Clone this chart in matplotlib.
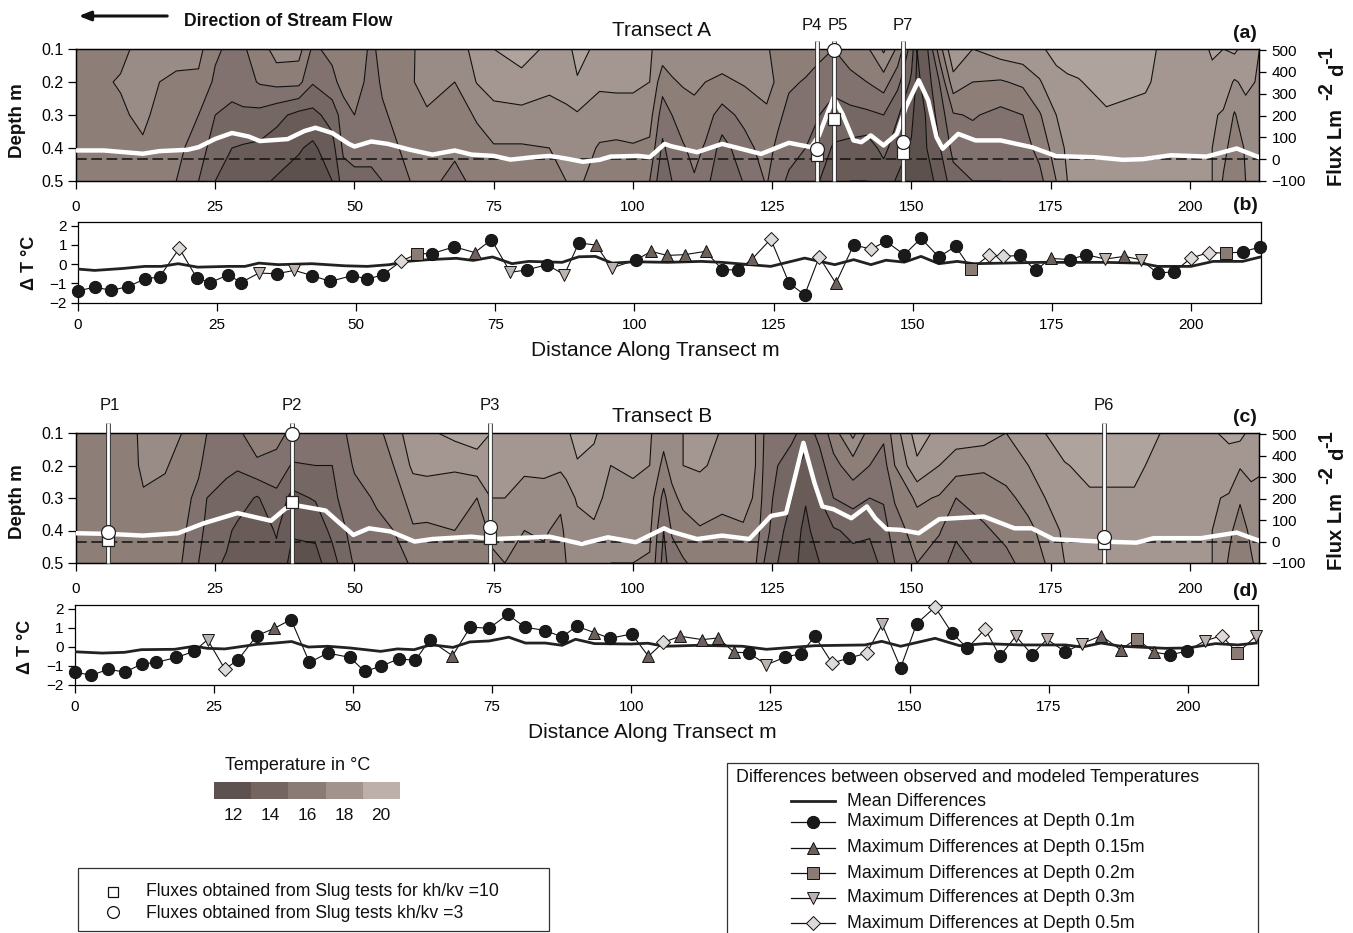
import matplotlib
matplotlib.use("Agg")
import matplotlib.pyplot as plt
import numpy as np

plt.rcParams['font.family'] = ['Liberation Sans', 'DejaVu Sans']

W, H = 1353, 933

depths = [0.1, 0.2, 0.3, 0.4, 0.5]
temp_levels = [5, 13, 14, 15, 16, 17, 18, 19, 25]
temp_colors = ['#5d514e', '#695b57', '#756763', '#817270', '#8d7e78', '#998b85', '#a49791', '#afa39e']

# transect A: temperature per station, depth 0.1 .. 0.5
a_x = [0, 8, 12, 15, 18, 22, 25, 28, 30, 33, 36, 40, 42.5, 46, 48, 50, 53, 55, 58, 60,
       63, 68, 72, 75, 80, 85, 88, 90, 94, 97, 100, 103, 105.3, 107, 109, 111, 113, 116, 120, 124,
       126, 128, 131, 133.5, 136, 139, 142, 145, 147.5, 150, 151, 152.5, 155, 157.5, 161, 166, 170, 173, 176, 178,
       180, 185, 192, 198, 203, 204, 206, 208, 210, 212.5]
a_temp = [
    [16.5, 16.5, 16.5, 16.5, 16.5], [16.7, 17.1, 16.8, 16.6, 16.5], [17.4, 17.6, 17.3, 16.8, 16.5],
    [17.3, 17.0, 16.6, 16.5, 16.4], [17.2, 16.9, 16.5, 16.3, 16.0], [17.3, 16.8, 16.0, 15.5, 15.0],
    [16.2, 15.8, 15.0, 14.5, 14.0], [15.7, 15.3, 14.8, 14.0, 13.6], [15.9, 15.6, 14.8, 13.9, 13.4],
    [16.4, 16.1, 14.7, 13.8, 13.2], [17.5, 16.3, 14.3, 13.5, 12.9], [17.4, 16.3, 13.7, 13.1, 12.6],
    [15.8, 15.1, 13.7, 12.8, 12.4], [16.3, 15.7, 14.4, 13.6, 13.0], [16.4, 16.4, 15.5, 15.2, 14.5],
    [16.7, 16.4, 16.0, 15.4, 14.7], [15.8, 15.7, 15.6, 15.4, 14.7], [16.3, 16.1, 15.9, 15.6, 15.0],
    [16.6, 16.4, 16.2, 16.0, 15.7], [16.8, 16.9, 16.5, 16.2, 16.0], [17.5, 17.3, 16.9, 16.6, 16.3],
    [17.4, 17.0, 16.6, 16.2, 15.7], [18.4, 18.05, 17.1, 16.7, 16.3], [19.0, 18.4, 17.7, 16.9, 16.4],
    [19.4, 18.7, 17.7, 16.9, 16.5], [18.8, 18.2, 17.7, 17.0, 16.5], [18.6, 18.2, 17.9, 17.3, 17.0],
    [19.4, 18.9, 17.9, 17.5, 17.2], [18.7, 18.2, 17.5, 16.9, 16.5], [18.6, 18.2, 17.6, 16.8, 16.3],
    [18.6, 18.2, 17.6, 16.9, 16.3], [18.1, 18.0, 17.4, 16.8, 16.0], [17.6, 16.4, 15.5, 14.8, 14.2],
    [17.5, 16.9, 16.0, 15.5, 15.0], [17.5, 17.1, 16.5, 15.9, 15.5], [17.5, 17.2, 16.7, 16.3, 15.9],
    [17.5, 17.0, 16.4, 15.9, 15.4], [17.6, 16.8, 15.6, 14.6, 14.0], [17.7, 17.1, 16.3, 15.6, 15.1],
    [17.1, 17.4, 16.8, 16.5, 16.1], [16.7, 16.8, 16.3, 15.7, 15.2], [16.7, 16.2, 15.6, 15.2, 14.9],
    [16.6, 15.9, 15.4, 15.0, 14.7], [16.2, 15.7, 15.0, 14.5, 14.0], [16.0, 15.4, 14.5, 13.9, 13.3],
    [16.5, 15.7, 14.7, 13.7, 13.0], [16.8, 16.0, 14.8, 13.5, 13.0], [18.2, 16.5, 15.0, 14.3, 13.4],
    [16.8, 15.3, 14.1, 13.4, 12.9], [14.5, 13.8, 13.2, 12.9, 12.6], [13.0, 12.8, 12.6, 12.5, 12.4],
    [13.5, 13.3, 13.0, 12.9, 12.7], [16.5, 15.0, 14.4, 13.9, 13.2], [18.9, 17.6, 15.9, 15.3, 14.6],
    [18.0, 17.0, 16.1, 15.5, 15.0], [18.5, 16.9, 15.7, 15.3, 15.0], [18.7, 17.2, 16.0, 15.6, 15.2],
    [18.9, 17.9, 16.9, 16.3, 15.7], [19.2, 18.8, 18.0, 17.5, 17.0], [19.3, 18.9, 18.4, 18.2, 18.0],
    [19.4, 18.95, 18.5, 18.3, 18.3], [19.5, 19.3, 18.9, 18.6, 18.5], [19.2, 19.1, 18.8, 18.6, 18.5],
    [18.6, 18.5, 18.4, 18.4, 18.4], [18.9, 18.5, 18.4, 18.3, 18.2], [19.2, 18.6, 18.1, 18.0, 18.0],
    [19.0, 18.5, 17.9, 17.3, 16.9], [19.2, 17.9, 16.9, 16.5, 16.2], [18.6, 18.2, 17.7, 17.1, 17.0],
    [18.0, 17.9, 17.7, 17.4, 17.3],
]

# transect B
c_x = [0, 6, 9, 11, 12.1, 16, 19, 22, 23.5, 27, 29, 32.5, 36, 38.8, 43, 46, 48, 50, 54, 57,
       60.5, 63, 68, 72, 74.5, 77, 80.5, 84, 87, 88, 90, 93, 96, 100, 103, 105.5, 107, 109, 112, 116,
       119.8, 122, 123.5, 126, 128.5, 131, 133.5, 136, 139.5, 142.5, 145, 147, 151, 155, 158, 163, 167, 171, 174, 177.5,
       182, 190, 192, 200, 204, 207, 209, 211, 212.5]
c_temp = [
    [16.5, 16.5, 16.5, 16.5, 16.5], [16.7, 16.9, 16.7, 16.5, 16.4], [16.8, 16.8, 16.6, 16.5, 16.4],
    [17.0, 16.9, 16.6, 16.5, 16.4], [17.8, 17.4, 16.8, 16.5, 16.4], [17.6, 17.1, 16.7, 16.5, 16.3],
    [17.0, 16.6, 16.4, 16.2, 16.0], [16.3, 16.2, 15.7, 15.4, 15.0], [16.0, 15.6, 15.0, 14.7, 14.3],
    [15.9, 15.2, 14.7, 14.2, 13.9], [15.8, 15.1, 14.5, 13.8, 13.5], [16.6, 15.8, 13.9, 13.4, 13.1],
    [16.3, 15.7, 14.7, 14.1, 13.7], [15.8, 14.9, 13.7, 13.1, 12.7], [15.7, 15.0, 14.1, 13.2, 12.7],
    [15.8, 15.0, 14.8, 14.3, 13.5], [15.9, 15.6, 15.2, 14.9, 14.5], [16.3, 16.1, 15.7, 15.3, 15.1],
    [16.7, 16.4, 16.1, 15.8, 15.5], [17.5, 17.0, 16.5, 16.0, 15.7], [18.6, 18.2, 17.4, 16.9, 16.1],
    [18.8, 18.2, 17.6, 16.8, 16.3], [19.3, 18.1, 17.6, 17.0, 16.7], [19.5, 18.5, 17.0, 16.7, 16.5],
    [19.0, 18.3, 18.0, 17.1, 16.9], [18.9, 18.2, 18.0, 17.2, 17.0], [18.5, 18.1, 17.8, 17.0, 16.8],
    [18.2, 18.2, 17.7, 17.1, 16.8], [18.5, 18.2, 17.2, 16.8, 16.5], [18.8, 18.3, 17.6, 17.2, 17.0],
    [19.4, 18.9, 18.1, 17.7, 17.2], [19.2, 18.6, 18.2, 17.9, 17.5], [18.2, 18.0, 17.8, 17.5, 17.0],
    [18.7, 18.2, 17.7, 17.3, 17.0], [18.1, 18.0, 17.5, 17.2, 16.9], [17.4, 16.7, 15.7, 15.0, 14.6],
    [17.6, 17.4, 16.7, 16.1, 15.6], [18.0, 18.0, 17.3, 16.5, 15.9], [18.6, 18.1, 17.6, 16.9, 16.3],
    [17.9, 17.8, 17.2, 16.8, 16.4], [17.6, 17.4, 17.3, 16.9, 16.5], [17.0, 17.0, 16.9, 16.5, 16.1],
    [16.0, 15.9, 15.7, 15.5, 15.0], [15.7, 15.0, 14.6, 14.3, 14.0], [15.3, 14.4, 14.0, 13.6, 13.4],
    [14.5, 13.6, 13.1, 12.7, 12.5], [15.3, 14.6, 14.0, 13.6, 13.0], [16.5, 15.7, 15.0, 13.9, 13.6],
    [18.3, 16.5, 15.4, 14.2, 13.7], [16.5, 16.0, 15.0, 14.1, 13.7], [16.2, 15.6, 15.1, 14.6, 14.2],
    [17.5, 17.0, 16.1, 15.5, 15.0], [19.5, 18.8, 17.2, 16.5, 16.0], [18.7, 18.0, 16.9, 16.1, 15.4],
    [18.5, 17.5, 16.0, 15.2, 14.6], [18.5, 17.2, 16.3, 15.9, 15.3], [18.0, 17.5, 16.7, 16.2, 15.8],
    [18.7, 18.0, 17.4, 16.7, 16.3], [19.0, 18.6, 18.0, 17.4, 17.0], [19.4, 18.95, 18.5, 18.2, 18.0],
    [19.6, 19.2, 18.9, 18.5, 18.3], [19.5, 19.2, 18.9, 18.6, 18.4], [19.1, 19.0, 18.7, 18.5, 18.4],
    [18.8, 18.6, 18.4, 18.4, 18.4], [18.9, 18.4, 18.1, 18.0, 18.0], [19.2, 18.6, 17.9, 17.2, 16.9],
    [19.3, 18.1, 17.1, 16.6, 16.3], [18.7, 18.3, 17.7, 17.2, 16.9], [18.3, 18.1, 17.8, 17.5, 17.3],
]

# flux lines
a_flux_x = [0, 5, 12, 15, 20, 22, 25, 28, 31, 33, 38, 41, 43, 46, 49, 50, 53, 56, 60, 64, 68, 71, 75, 78, 82, 85, 88,
            91, 94, 96, 101, 103, 105.7, 106.8, 111.5, 116, 123, 128, 132, 133.4, 136, 137.6, 139.6, 141, 142.7, 145,
            147.4, 149, 151.3, 153, 154.5, 155.6, 158.4, 161.5, 166, 171.6, 176, 183, 188, 191.5, 196.6, 203, 208.4, 212.4]
a_flux = [40, 40, 25, 37, 43, 55, 93, 120, 104, 83, 92, 129, 144, 120, 70, 58, 81, 70, 43, 21, 40, 21, 15, -2, 9, 15, 3,
          -12, -3, 12, 15, 9, 70, 60, 32, 70, 24, 75, 55, 109, 282, 208, 86, 78, 109, 63,
          116, 239, 362, 270, 101, 48, 116, 86, 86, 55, 14, 9, -3, 0, 18, 12, 49, 9]
c_flux_x = [0, 5.8, 12, 18.3, 23, 29, 35, 37.7, 40, 44.8, 47, 49.8, 52.6, 56.5, 60.8, 64, 71, 75, 85, 90.8, 95.5, 100.5,
            105.6, 106.8, 111.5, 116, 120.9, 124.8, 127.5, 130.6, 132.6, 134, 136, 139.2, 142, 143.5, 145.5, 148, 151.3,
            155, 163, 168.5, 171.6, 175.5, 184, 190.4, 193.5, 202, 208.4, 212.3]
c_flux = [39, 36, 28, 39, 86, 133, 97, 156, 167, 145, 94, 31, 62, 47, 0, 12, 23, 12, 23, -11, 20, -3,
          62, 47, 12, 28, 12, 120, 133, 461, 273, 164, 151, 109, 164, 109, 58, 55, 39,
          105, 117, 62, 62, 11, 0, -5, 16, 16, 42, 5]

# piezometers
a_pins = ['P4', 'P5', 'P7']
a_pin_x = [133, 136.1, 148.5]
a_pin_circle = [45, 500, 80]
a_pin_square = [17, 185, 30]
c_pins = ['P1', 'P2', 'P3', 'P6']
c_pin_x = [5.8, 38.8, 74.3, 184.5]
c_pin_circle = [47, 500, 66, 23]
c_pin_square = [8, 183, 19, -5]

# temperature differences. kinds: c 0.1, t 0.15, s 0.2, v 0.3, d 0.5
b_x = [0, 3.05, 6, 9, 12, 14.7, 18.2, 21.4, 23.8, 27, 29.3, 32.5, 35.7, 38.9, 42.1, 45.3, 49.3, 52, 54.8, 58,
       61, 63.6, 67.6, 71.3, 74.3, 77.7, 80.7, 84.3, 87.4, 90, 93.1, 95.9, 100.2, 103, 105.9, 109, 112.8, 115.8, 118.7, 121.2,
       124.5, 127.8, 130.6, 133.2, 136.2, 139.4, 142.5, 145.2, 148.5, 151.5, 154.7, 157.7, 160.5, 163.8, 166.3, 169.3, 172.1, 174.8, 178.2, 181.2,
       184.6, 188, 191, 194, 197, 200, 203.2, 206.3, 209.3, 212.5]
b_max = [-1.39, -1.2, -1.37, -1.17, -0.78, -0.66, 0.82, -0.75, -0.96, -0.56, -0.96, -0.47, -0.5, -0.33, -0.6, -0.9, -0.6, -0.78, -0.56, 0.14,
         0.54, 0.54, 0.9, 0.6, 1.27, -0.43, -0.3, -0.03, -0.56, 1.1, 0.99, -0.2, 0.2, 0.66, 0.45, 0.49, 0.66, -0.3, -0.3, 0.28,
         1.3, -1.0, -1.6, 0.37, -1.0, 1.0, 0.78, 1.18, 0.49, 1.34, 0.37, 0.92, -0.26, 0.47, 0.4, 0.45, -0.33, 0.3, 0.23, 0.49,
         0.26, 0.4, 0.23, -0.47, -0.4, 0.31, 0.6, 0.57, 0.63, 0.9]
b_kind = list('ccccccdccccvcvcccccd' 'scctcvccvctvcttttcct' 'dccdtcdcccccsddcctcc' 'vtvccddscc')
b_mean_x = [0, 3, 8, 12, 15, 18, 21.5, 27, 30, 32.5, 36, 42, 48, 52, 56, 59, 63, 68, 71, 74.5, 78, 81, 87, 90, 93, 96, 100, 106, 112,
            115.7, 124.5, 130.6, 136, 139.4, 142.5, 145.2, 148.5, 151.5, 154.7, 158, 161, 173, 184.5, 191, 194, 200, 204, 209.3, 212.5]
b_mean = [-0.26, -0.33, -0.23, -0.12, -0.12, 0.02, -0.16, -0.12, -0.12, 0.05, -0.03, 0.02, -0.09, -0.12, -0.03, 0.14, 0.23, 0.3, 0.19, 0.37, 0.02, 0.14, 0.09, 0.38, 0.4, 0.05, 0.12, 0.09, 0.14,
          0.09, -0.12, 0.31, -0.03, 0.23, -0.03, 0.2, 0.1, 0.4, 0.02, 0.14, 0.02, 0.09, 0.09, 0.05, -0.12, -0.12, 0.14, 0.14, 0.37]

d_x = [0, 3, 6.1, 9, 12.1, 14.7, 18.3, 21.5, 23.9, 27, 29.4, 32.7, 35.9, 38.9, 42.2, 45.5, 49.5, 52.1, 55, 58.3,
       61.2, 63.8, 67.9, 71.1, 74.5, 77.8, 80.9, 84.6, 87.6, 90.2, 93.4, 96.2, 100.1, 103.1, 105.8, 108.8, 112.8, 115.6, 118.5, 121.1,
       124.3, 127.7, 130.5, 133, 136.1, 139.1, 142.3, 145.1, 148.4, 151.3, 154.6, 157.6, 160.4, 163.6, 166.2, 169.1, 172, 174.7, 178, 181,
       184.4, 187.9, 190.8, 193.9, 196.8, 199.8, 203, 206.1, 208.9, 212.3]
d_max = [-1.33, -1.52, -1.19, -1.35, -0.92, -0.83, -0.57, -0.25, 0.37, -1.19, -0.69, 0.57, 0.97, 1.43, -0.83, -0.34, -0.57, -1.31, -1.04, -0.64,
         -0.73, 0.35, -0.48, 1.03, 0.97, 1.7, 1.03, 0.85, 0.51, 1.08, 0.74, 0.44, 0.67, -0.51, 0.23, 0.55, 0.37, 0.46, -0.3, -0.32,
         -0.96, -0.55, -0.37, 0.55, -0.87, -0.6, -0.35, 1.17, -1.12, 1.22, 2.09, 0.73, -0.09, 0.94, -0.51, 0.55, -0.42, 0.39, -0.28, 0.16,
         0.58, -0.16, 0.42, -0.3, -0.42, -0.25, 0.3, 0.58, -0.34, 0.58]
d_kind = list('ccccccccvdcctccccccc' 'cctccccccctcctdttttc' 'vcccdcdvccdccdcvcvcv' 'ttstccvdsv')
d_mean_x = [0, 5, 9, 12, 18, 21.5, 23.9, 27, 29.4, 32.7, 36, 39, 42, 45.5, 49.5, 55, 58, 61, 64, 68, 71, 74.5, 78, 81, 84.6, 87.6, 90, 93.4, 100, 103, 106,
            112, 120, 124.3, 133, 142, 145, 148.4, 154.6, 159, 163.6, 170, 178, 181, 184.4, 188, 196, 200, 205, 209, 212.3]
d_mean = [-0.27, -0.34, -0.3, -0.16, -0.14, 0.02, -0.09, -0.12, -0.02, 0.12, 0.19, 0.27, -0.02, 0.02, -0.07, -0.25, -0.12, -0.16, 0.1, -0.04, 0.25, 0.3, 0.5, 0.19, 0.19, 0.07, 0.39, 0.16, 0.14, 0.18, 0.02,
          0.07, 0.02, -0.14, 0.05, 0.09, 0.28, 0.02, 0.44, 0.05, 0.16, 0.09, 0.09, -0.02, 0.19, 0.02, -0.09, -0.07, 0.16, 0.09, 0.19]

legend_temps = ['12', '14', '16', '18', '20']
legend_colors = ['#5e5250', '#756560', '#8a7b75', '#a2938d', '#bdb0ab']
legend_names = ['Maximum Differences at Depth 0.1m', 'Maximum Differences at Depth 0.15m',
                'Maximum Differences at Depth 0.2m', 'Maximum Differences at Depth 0.3m',
                'Maximum Differences at Depth 0.5m']

styles = {
    'c': dict(marker='o', color='#1a1a1a', size=8.8),
    't': dict(marker='^', color='#6e605c', size=8.8),
    's': dict(marker='s', color='#8a7b75', size=8.0),
    'v': dict(marker='v', color='#bdb3ae', size=8.8),
    'd': dict(marker='D', color='#dedad8', size=7.6),
}


def px_axes(fig, left, top, right, bottom):
    return fig.add_axes([left / W, 1 - bottom / H, (right - left) / W, (bottom - top) / H])


def contour_panel(fig, box, xs, temps, fx, fy, pin_x, pin_c, pin_s, flux_top, pin_top):
    ax = px_axes(fig, *box)
    T = np.array(temps).T
    ax.contourf(xs, depths, T, levels=temp_levels, colors=temp_colors)
    ax.contour(xs, depths, T, levels=temp_levels[1:-1], colors='#111111', linewidths=0.8)
    ax.set_xlim(0, 212.4)
    ax.set_ylim(0.5, 0.1)
    ax.set_yticks(depths)
    ax.set_yticklabels(['0.1', '0.2', '0.3', '0.4', '0.5'], fontsize=11.5)
    ax.set_xticks(range(0, 201, 25))
    ax.tick_params(axis='x', labelsize=11, length=6, width=0.9, pad=8)
    ax.tick_params(axis='y', length=6, width=0.9, pad=3)

    ax2 = ax.twinx()
    ax2.set_ylim(-100, flux_top)
    ax2.set_yticks(range(-100, 501, 100))
    ax2.tick_params(axis='y', labelsize=11, length=5, width=0.9, pad=4)
    ax2.axhline(0, color='#111111', lw=1.1, ls=(0, (7, 3)), zorder=2)
    ax2.plot(fx, fy, color='white', lw=3.2, solid_joinstyle='round', zorder=3)

    ytop = flux_top + (box[1] - pin_top) * (flux_top + 100) / (box[3] - box[1])
    for x, c, s in zip(pin_x, pin_c, pin_s):
        ax2.plot([x, x], [-100, ytop], color='#333333', lw=3.4, clip_on=False, zorder=4,
                 solid_capstyle='butt')
        ax2.plot([x, x], [-100, ytop], color='white', lw=2.0, clip_on=False, zorder=5,
                 solid_capstyle='butt')
        ax2.plot(x, s, 's', ms=8, mfc='white', mec='#222222', mew=0.9, clip_on=False, zorder=6)
        ax2.plot(x, c, 'o', ms=10, mfc='white', mec='#222222', mew=0.9, clip_on=False, zorder=7)
    for sp in list(ax.spines.values()) + list(ax2.spines.values()):
        sp.set_linewidth(0.9)
    return ax


def diff_panel(fig, box, xs, vals, kinds, mx, my, ymax):
    ax = px_axes(fig, *box)
    ax.plot(xs, vals, color='#111111', lw=0.8, zorder=2)
    ax.plot(mx, my, color='#222222', lw=2.0, zorder=3)
    for key, st in styles.items():
        px = [x for x, k in zip(xs, kinds) if k == key]
        py = [y for y, k in zip(vals, kinds) if k == key]
        ax.plot(px, py, ls='', marker=st['marker'], ms=st['size'], mfc=st['color'], mec='#111111',
                mew=0.7, clip_on=False, zorder=4)
    ax.set_xlim(0, 212.6)
    ax.set_ylim(-2, ymax)
    ax.set_yticks([-2, -1, 0, 1, 2])
    ax.set_xticks(range(0, 201, 25))
    ax.tick_params(axis='x', labelsize=11, length=6, width=0.9, pad=5)
    ax.tick_params(axis='y', labelsize=11, length=5, width=0.9, pad=3)
    for sp in ax.spines.values():
        sp.set_linewidth(0.9)
    return ax


fig = plt.figure(figsize=(W / 100, H / 100), dpi=100)

contour_panel(fig, (76, 49, 1259, 181), a_x, a_temp, a_flux_x, a_flux, a_pin_x, a_pin_circle, a_pin_square, 505, 41)
contour_panel(fig, (76, 433, 1259, 563), c_x, c_temp, c_flux_x, c_flux, c_pin_x, c_pin_circle, c_pin_square, 507, 423)
diff_panel(fig, (78, 222, 1261, 302.5), b_x, b_max, b_kind, b_mean_x, b_mean, 2.19)
diff_panel(fig, (74.5, 605, 1258, 684.5), d_x, d_max, d_kind, d_mean_x, d_mean, 2.2)

# overlay in pixel coordinates for texts and legends
ov = fig.add_axes([0, 0, 1, 1], facecolor='none', zorder=20)
ov.set_xlim(0, W)
ov.set_ylim(H, 0)
ov.axis('off')


def txt(x, y, s, size=12, weight='normal', ha='center', rot=0):
    ov.text(x, y, s, fontsize=size, fontweight=weight, ha=ha, va='center', rotation=rot, color='#111111')


ov.annotate('', xy=(76, 16), xytext=(170, 16),
            arrowprops=dict(arrowstyle='-|>,head_width=0.28,head_length=0.7', color='#111111', lw=2.2))
txt(184, 21, 'Direction of Stream Flow', 12.7, 'bold', 'left')
txt(662, 31, 'Transect A', 15)
txt(662, 416, 'Transect B', 15)
txt(1245, 33, '(a)', 14, 'bold')
txt(1245, 206, '(b)', 14, 'bold')
txt(1245, 418, '(c)', 14, 'bold')
txt(1245, 591, '(d)', 14, 'bold')
txt(655, 350, 'Distance Along Transect m', 15)
txt(652, 732, 'Distance Along Transect m', 15)
txt(18, 121, 'Depth m', 13.5, 'bold', rot=90)
txt(18, 502, 'Depth m', 13.5, 'bold', rot=90)
txt(30, 263, '\u0394 T °C', 13, 'bold', rot=90)
txt(25, 647, '\u0394 T °C', 13, 'bold', rot=90)

for oy in (0, 384):
    txt(1336, 148 + oy, 'Flux Lm', 14.5, 'bold', rot=90)
    txt(1327, 91 + oy, '-2', 14.5, 'bold', rot=90)
    txt(1338, 70 + oy, 'd', 14.5, 'bold', rot=90)
    txt(1327, 55 + oy, '-1', 14.5, 'bold', rot=90)

for name, x in zip(a_pins, [812, 838, 903]):
    txt(x, 25, name, 12)
for name, x in zip(c_pins, [110, 292, 490, 1104]):
    txt(x, 406, name, 12)

# colour key
txt(298, 766, 'Temperature in °C', 13)
for i, (lab, col) in enumerate(zip(legend_temps, legend_colors)):
    ov.add_patch(plt.Rectangle((214 + i * 37.2, 782), 37.2, 17, fc=col, ec='none'))
    txt(233 + i * 37, 815, lab, 12.5)

# slug test box
ov.add_patch(plt.Rectangle((78, 868), 471, 63, fc='white', ec='#333333', lw=0.9))
ov.plot(113, 892, 's', ms=7.5, mfc='white', mec='#111111', mew=0.9)
ov.plot(113, 912, 'o', ms=8.5, mfc='white', mec='#111111', mew=0.9)
txt(146, 892, 'Fluxes obtained from Slug tests for kh/kv =10', 12.7, ha='left')
txt(146, 913, 'Fluxes obtained from Slug tests kh/kv =3', 12.7, ha='left')

# differences box
ov.add_patch(plt.Rectangle((727, 763), 531, 190, fc='white', ec='#333333', lw=0.9))
txt(736, 777, 'Differences between observed and modeled Temperatures', 12.85, ha='left')
ov.plot([791, 835], [801, 801], color='#222222', lw=2)
txt(847, 801, 'Mean Differences', 12.8, ha='left')
for name, key, y in zip(legend_names, 'ctsvd', [822, 848, 873, 898, 923]):
    st = styles[key]
    ov.plot([791, 835], [y, y], color='#111111', lw=0.9)
    ov.plot(813, y, ls='', marker=st['marker'], ms=st['size'], mfc=st['color'], mec='#111111', mew=0.7)
    txt(847, y, name, 12.8, ha='left')
ov.set_xlim(0, W)
ov.set_ylim(H, 0)

fig.savefig('out.png', dpi=100)
